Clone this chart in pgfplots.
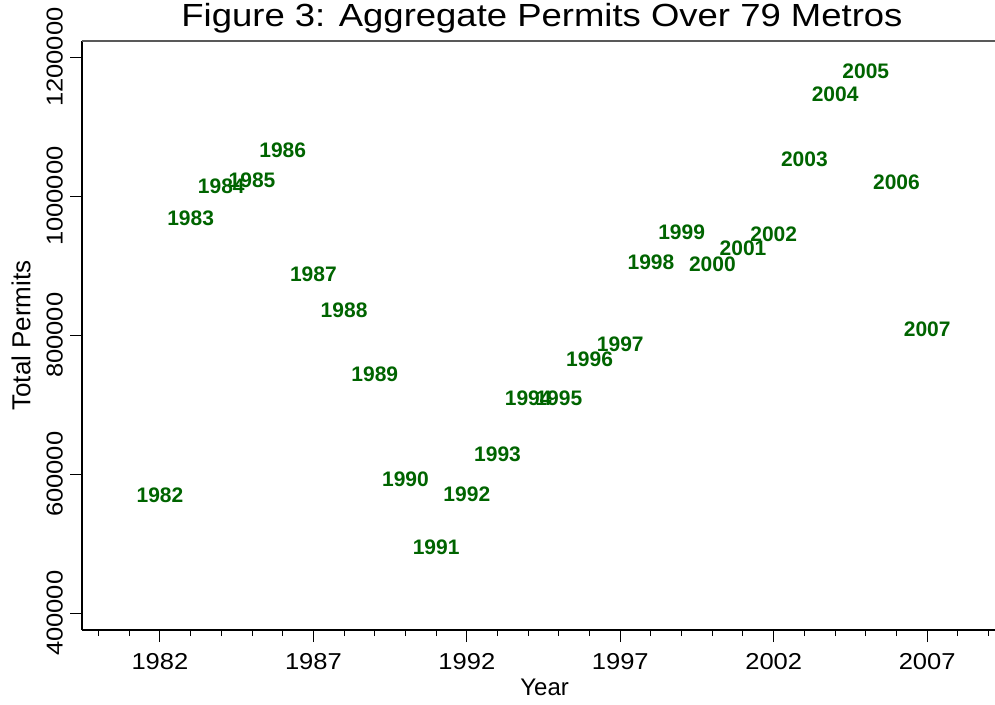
\documentclass[border=0pt]{standalone}
\usepackage{fontspec}
\setmainfont{Liberation Sans}
\newfontfamily\tickfont[FakeStretch=1.11]{Liberation Sans}
\newfontfamily\titlefont[FakeStretch=1.14]{Liberation Sans}
\usepackage{pgfplots}
\pgfplotsset{compat=1.18}
\definecolor{lblgreen}{RGB}{0,100,0}
\begin{document}
\begin{tikzpicture}
\useasboundingbox (-82pt,-74pt) rectangle (913pt,630pt);
\begin{axis}[
  scale only axis,
  width=913pt, height=589pt,
  xmin=1979.46, xmax=2009.21,
  ymin=376000, ymax=1223400,
  axis lines*=left,
  axis line style={line width=1.1pt, black},
  xtick={1982,1987,...,2007},
  minor xtick={1980,...,2009},
  ytick={400000,600000,...,1200000},
  tick align=outside,
  major tick length=12pt,
  minor tick length=6pt,
  tick style={black, line width=1pt},
  scaled y ticks=false,
  /pgf/number format/.cd, fixed, 1000 sep={}, assume math mode=true,
  /pgfplots/.cd,
  ticklabel style={font=\tickfont\fontsize{23}{23}\selectfont, inner sep=0pt},
  xticklabel style={anchor=north, yshift=-11pt},
  yticklabel style={xshift=-7pt, rotate=90, anchor=south},
  title={Figure 3: Aggregate Permits Over 79 Metros},
  every axis title/.style={at={(axis description cs:0.5038,1.0238)}, anchor=base, font=\titlefont\fontsize{32}{32}\selectfont, inner sep=0pt},
  xlabel={Year},
  every axis x label/.style={at={(axis description cs:0.5067,-0.0976)}, anchor=center, font=\fontsize{24}{24}\selectfont, inner sep=0pt},
  ylabel={Total Permits},
  every axis y label/.style={at={(axis description cs:-0.0668,0.5)}, rotate=90, anchor=center, font=\fontsize{26}{26}\selectfont, inner sep=0pt},
  clip=false,
]
\addplot[draw=none, mark=none, nodes near coords, point meta=explicit symbolic,
  every node near coord/.style={anchor=center, inner sep=0pt, text=lblgreen, font=\bfseries\fontsize{21}{21}\selectfont}]
coordinates {
(1982,569500)[1982]
(1983,968000)[1983]
(1984,1013800)[1984]
(1985,1023400)[1985]
(1986,1066600)[1986]
(1987,887500)[1987]
(1988,836400)[1988]
(1989,743600)[1989]
(1990,592500)[1990]
(1991,494700)[1991]
(1992,571000)[1992]
(1993,628500)[1993]
(1994,709100)[1994]
(1995,709500)[1995]
(1996,765200)[1996]
(1997,787500)[1997]
(1998,904700)[1998]
(1999,947900)[1999]
(2000,901900)[2000]
(2001,925600)[2001]
(2002,945000)[2002]
(2003,1052900)[2003]
(2004,1146500)[2004]
(2005,1179500)[2005]
(2006,1019800)[2006]
(2007,808300)[2007]
};
\draw[black!65, line width=1.5pt] (rel axis cs:0,1) -- (rel axis cs:1,1);
\end{axis}
\end{tikzpicture}
\end{document}
